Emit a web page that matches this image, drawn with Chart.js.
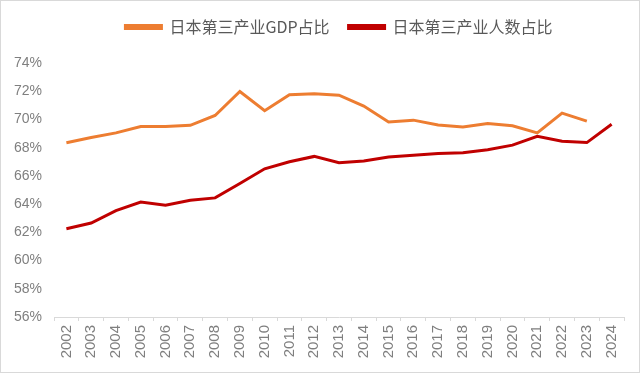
<!DOCTYPE html>
<html>
<head>
<meta charset="utf-8">
<script src="https://cdn.jsdelivr.net/npm/chart.js@4.4.1/dist/chart.umd.min.js"></script>
<style>
  body { margin: 0; background: #fff; }
</style>
</head>
<body>
<canvas id="line-chart" width="640" height="373"></canvas>
<script>
var years = ["2002", "2003", "2004", "2005", "2006", "2007", "2008", "2009", "2010", "2011", "2012",
    "2013", "2014", "2015", "2016", "2017", "2018", "2019", "2020", "2021", "2022", "2023", "2024"];

// 日本第三产业GDP占比 (%), 2024 not yet available
var gdpShare = [68.35, 68.72, 69.05, 69.5, 69.5, 69.58, 70.28, 71.98, 70.62, 71.75, 71.82,
    71.72, 70.95, 69.82, 69.95, 69.6, 69.46, 69.72, 69.55, 69.05, 70.45, 69.88, null];

// 日本第三产业人数占比 (%)
var empShare = [62.26, 62.66, 63.54, 64.15, 63.92, 64.27, 64.44, 65.46, 66.5, 67.0, 67.38,
    66.93, 67.05, 67.34, 67.47, 67.58, 67.64, 67.86, 68.18, 68.8, 68.45, 68.36, 69.66];

var yTicks = { min: 56, max: 74, step: 2 };

var tickColor = "#7f7f7f";
var textColor = "#595959";

// legend takes a fixed band on top, centered over the plot
var legendPlugin = {
    id: "legendBand",
    beforeInit: function (chart) {
        var fit = chart.legend.fit;
        chart.legend.fit = function () {
            fit.call(this);
            this.height = 63;
        };
    },
    beforeDraw: function (chart) {
        var lg = chart.legend;
        lg.left = chart.chartArea.left;
        lg.right = chart.chartArea.right;
    }
};

// light frame round the picture
var framePlugin = {
    id: "frame",
    afterDraw: function (chart) {
        var ctx = chart.ctx;
        ctx.save();
        ctx.strokeStyle = "#d9d9d9";
        ctx.lineWidth = 1;
        ctx.strokeRect(0.5, 0.5, chart.width - 1, chart.height - 1);
        ctx.restore();
    }
};

new Chart(document.getElementById("line-chart"), {
    type: "line",
    data: {
        labels: years,
        datasets: [
            {
                label: "日本第三产业GDP占比",
                data: gdpShare,
                borderColor: "#ED7D31",
                backgroundColor: "#ED7D31",
                borderWidth: 3,
                pointRadius: 0,
                tension: 0,
                fill: false
            },
            {
                label: "日本第三产业人数占比",
                data: empShare,
                borderColor: "#C00000",
                backgroundColor: "#C00000",
                borderWidth: 3,
                pointRadius: 0,
                tension: 0,
                fill: false
            }
        ]
    },
    options: {
        responsive: false,
        animation: false,
        layout: { padding: { top: 0, right: 16, bottom: 0, left: 0 } },
        plugins: {
            tooltip: { enabled: false },
            legend: {
                position: "top",
                labels: {
                    boxWidth: 36,
                    boxHeight: 3,
                    padding: 19,
                    color: textColor,
                    font: { family: "'Noto Sans CJK SC', sans-serif", size: 16 }
                }
            }
        },
        scales: {
            x: {
                offset: true,
                grid: {
                    display: true,
                    drawOnChartArea: false,
                    drawTicks: true,
                    tickLength: 4,
                    offset: true,
                    color: "#d9d9d9"
                },
                border: { display: true, color: "#d9d9d9" },
                ticks: {
                    minRotation: 90,
                    maxRotation: 90,
                    autoSkip: false,
                    padding: 4,
                    color: tickColor,
                    font: { family: "'Liberation Sans', sans-serif", size: 15 }
                },
                afterFit: function (scale) { scale.height = 56; }
            },
            y: {
                min: yTicks.min,
                max: yTicks.max,
                grid: { display: false, drawTicks: false },
                border: { display: false },
                ticks: {
                    stepSize: yTicks.step,
                    padding: 12,
                    color: tickColor,
                    font: { family: "'Liberation Sans', sans-serif", size: 14 },
                    callback: function (v) { return v + "%"; }
                },
                afterFit: function (scale) { scale.width = 54; }
            }
        }
    },
    plugins: [legendPlugin, framePlugin]
});
</script>
</body>
</html>
